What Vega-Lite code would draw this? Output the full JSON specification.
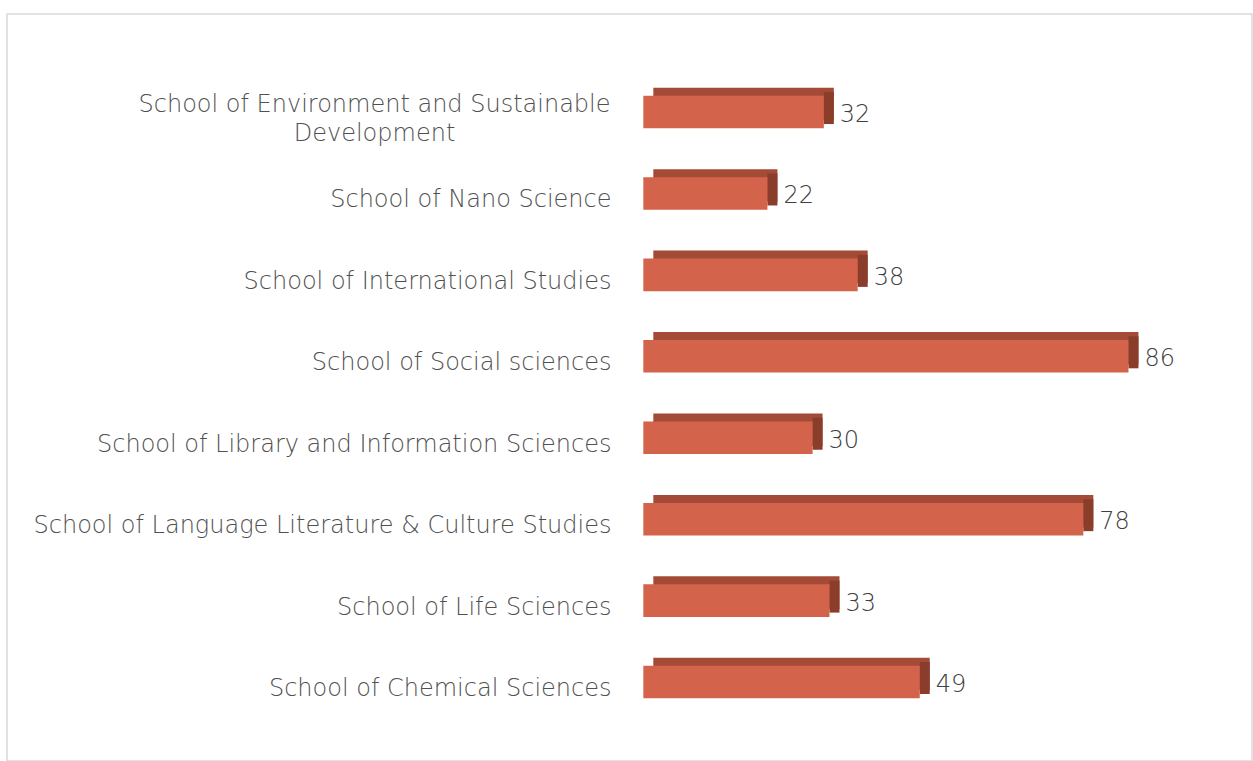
{
  "$schema": "https://vega.github.io/schema/vega-lite/v6.json",
  "width": 1245,
  "height": 747,
  "autosize": {"type": "none"},
  "padding": {"left": 7, "top": 14, "right": 1, "bottom": 0},
  "background": "white",
  "config": {"view": {"stroke": "#d9d9d9", "strokeWidth": 1.5}},
  "data": {
    "values": [
      {"school": "School of Environment and Sustainable\nDevelopment", "value": 32},
      {"school": "School of Nano Science", "value": 22},
      {"school": "School of International Studies", "value": 38},
      {"school": "School of Social sciences", "value": 86},
      {"school": "School of Library and Information Sciences", "value": 30},
      {"school": "School of Language Literature & Culture Studies", "value": 78},
      {"school": "School of Life Sciences", "value": 33},
      {"school": "School of Chemical Sciences", "value": 49}
    ]
  },
  "encoding": {
    "y": {
      "field": "school",
      "type": "nominal",
      "sort": null,
      "scale": {"paddingInner": 0.6, "paddingOuter": 0.887, "align": 0.566},
      "axis": {
        "title": null,
        "domain": false,
        "ticks": false,
        "offset": -636,
        "labelPadding": {"condition": {"test": "indexof(datum.value, 'Environment') >= 0", "value": 269}, "value": 32},
        "labelAlign": {"condition": {"test": "indexof(datum.value, 'Environment') >= 0", "value": "center"}, "value": "right"},
        "labelOffset": {"condition": {"test": "indexof(datum.value, 'Environment') >= 0", "value": -7}, "value": 7},
        "labelFontSize": 24,
        "labelFontWeight": 300,
        "labelColor": "#505050",
        "labelFont": "DejaVu Sans",
        "labelLimit": 700,
        "labelExpr": "split(datum.label, '\\n')",
        "labelLineHeight": 29
      }
    },
    "x": {
      "field": "value",
      "type": "quantitative",
      "scale": {"domain": [-112.8, 107.9], "nice": false, "zero": true},
      "axis": null
    }
  },
  "layer": [
    {"mark": {"type": "bar", "color": "#a34b37", "xOffset": 10, "x2Offset": 5, "yOffset": -8, "y2Offset": -8}},
    {"mark": {"type": "tick", "color": "#8b3d2c", "opacity": 1, "thickness": 10, "size": 32, "xOffset": 5, "yOffset": -4}},
    {"mark": {"type": "bar", "color": "#d3634a"}},
    {
      "mark": {"type": "text", "align": "left", "dx": 16, "dy": 3, "fontSize": 24, "fontWeight": 300, "color": "#404040", "font": "DejaVu Sans"},
      "encoding": {"text": {"field": "value", "type": "quantitative"}}
    }
  ]
}
